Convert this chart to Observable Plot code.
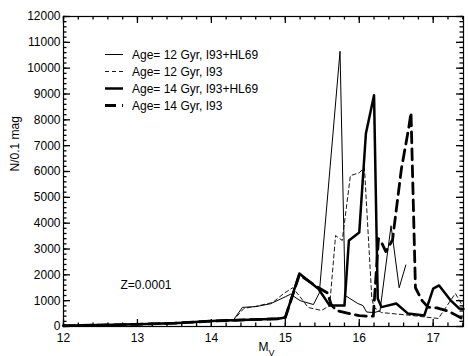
<!DOCTYPE html>
<html><head><meta charset="utf-8">
<script src="https://cdn.jsdelivr.net/npm/d3@7"></script>
<script src="https://cdn.jsdelivr.net/npm/@observablehq/plot@0.6"></script>
<style>
body{margin:0;background:#fff;font-family:"Liberation Sans",Arial,sans-serif}
#wrap{position:relative;width:468px;height:356px}
#legend{position:absolute;left:105px;top:46px;font-size:12px;color:#000}
#legend .row{display:flex;align-items:center;height:17px}
#legend .row svg{display:block}
#legend span{margin-left:9px;white-space:nowrap}
</style>
</head><body><div id="wrap"><div id="legend"></div></div>
<script>
// ---- data ----
const seriesLabels = ["Age= 12 Gyr, I93+HL69", "Age= 12 Gyr, I93", "Age= 14 Gyr, I93+HL69", "Age= 14 Gyr, I93"];

const m12hl = [12.0, 12.5, 13.0, 13.5, 14.0, 14.3, 14.42, 14.6, 14.8, 15.0, 15.07, 15.2, 15.38, 15.46, 15.74, 15.81, 15.98, 16.05, 16.1, 16.2, 16.28, 16.43, 16.54, 16.63];
const n12hl = [30, 60, 90, 140, 220, 260, 740, 770, 880, 1150, 1250, 1000, 850, 1300, 10650, 1200, 890, 810, 560, 540, 600, 3900, 1500, 2380];

const m12 = [12.0, 12.5, 13.0, 13.5, 14.0, 14.3, 14.44, 14.6, 14.83, 14.98, 15.1, 15.2, 15.31, 15.49, 15.6, 15.68, 15.77, 15.88, 16.0, 16.07, 16.17, 16.2, 16.3, 16.7, 17.07, 17.3, 17.41];
const n12 = [30, 60, 90, 140, 220, 250, 700, 780, 930, 1280, 1500, 1150, 735, 620, 810, 3520, 3330, 5840, 5950, 6150, 1100, 735, 540, 430, 310, 1280, 735];

const m14hl = [12.0, 12.5, 13.0, 13.5, 14.0, 14.5, 14.9, 15.0, 15.19, 15.45, 15.6, 15.8, 15.86, 16.0, 16.09, 16.2, 16.25, 16.3, 16.5, 16.66, 16.88, 17.0, 17.08, 17.24, 17.35, 17.41];
const n14hl = [30, 55, 85, 130, 210, 260, 300, 350, 2050, 1450, 810, 810, 3330, 3640, 7470, 8950, 1080, 750, 890, 500, 430, 1470, 1590, 1000, 700, 680];

const m14 = [12.0, 12.5, 13.0, 13.5, 14.0, 14.5, 14.9, 15.0, 15.19, 15.45, 15.57, 15.62, 15.69, 15.87, 16.0, 16.13, 16.19, 16.26, 16.31, 16.36, 16.45, 16.57, 16.67, 16.7, 16.76, 16.85, 16.93, 17.05, 17.2, 17.3, 17.38];
const n14 = [30, 55, 85, 130, 210, 260, 300, 350, 2000, 1500, 1300, 850, 620, 500, 420, 390, 400, 3400, 3200, 2900, 3350, 6100, 7700, 8280, 1500, 1000, 750, 720, 600, 450, 330];

const xMajor = [12, 13, 14, 15, 16, 17];
const xMinor = d3.range(12, 17.41, 0.2);
const yMajor = d3.range(0, 12001, 1000);
const yMinor = d3.range(0, 12001, 200);

const annotation = "Z=0.0001";
const yLabel = "N/0.1 mag";

// ---- build tables ----
const toRows = (ms, ns) => ms.map((m, i) => ({m, n: ns[i]}));
const series = [toRows(m12hl, n12hl), toRows(m12, n12), toRows(m14hl, n14hl), toRows(m14, n14)];

const styles = [
  {strokeWidth: 1, dash: null},
  {strokeWidth: 0.9, dash: "4,3"},
  {strokeWidth: 2.5, dash: null},
  {strokeWidth: 2.8, dash: "11,6"}
];

const W = 468, H = 356, ML = 63, MR = 5, MT = 16, MB = 30;
const FW = W - ML - MR, FH = H - MT - MB;
const xDom = [12, 17.41], yDom = [0, 12000];
const MAJ = 7, MIN = 3.5;
const yPerPx = (yDom[1] - yDom[0]) / FH, xPerPx = (xDom[1] - xDom[0]) / FW;
const tk = {stroke: "black", strokeWidth: 1.3};
// inward ticks on all four sides (tick lengths expressed in pixels)
const tickMarks = [
  Plot.ruleX(xMinor, {x: d => d, y1: yDom[0], y2: yDom[0] + MIN * yPerPx, ...tk}),
  Plot.ruleX(xMajor, {x: d => d, y1: yDom[0], y2: yDom[0] + MAJ * yPerPx, ...tk}),
  Plot.ruleX(xMinor, {x: d => d, y1: yDom[1], y2: yDom[1] - MIN * yPerPx, ...tk}),
  Plot.ruleX(xMajor, {x: d => d, y1: yDom[1], y2: yDom[1] - MAJ * yPerPx, ...tk}),
  Plot.ruleY(yMinor, {y: d => d, x1: xDom[0], x2: xDom[0] + MIN * xPerPx, ...tk}),
  Plot.ruleY(yMajor, {y: d => d, x1: xDom[0], x2: xDom[0] + MAJ * xPerPx, ...tk}),
  Plot.ruleY(yMinor, {y: d => d, x1: xDom[1], x2: xDom[1] - MIN * xPerPx, ...tk}),
  Plot.ruleY(yMajor, {y: d => d, x1: xDom[1], x2: xDom[1] - MAJ * xPerPx, ...tk})
];

const chart = Plot.plot({
  width: W, height: H,
  marginLeft: ML, marginRight: MR, marginTop: MT, marginBottom: MB,
  x: {domain: xDom, label: null},
  y: {domain: yDom, label: null},
  style: {fontFamily: "'Liberation Sans', Arial, sans-serif", fontSize: "12px"},
  marks: [
    ...series.map((s, i) => Plot.line(s, {x: "m", y: "n", stroke: "black", strokeWidth: styles[i].strokeWidth, strokeDasharray: styles[i].dash, strokeLinejoin: "round"})),
    ...tickMarks,
    Plot.frame({stroke: "black", strokeWidth: 1.2}),
    Plot.axisX(xMajor, {anchor: "bottom", tickSize: 0, tickPadding: 7, fill: "black", fontSize: 12, tickFormat: d3.format("d")}),
    Plot.axisY(yMajor, {anchor: "left", tickSize: 0, tickPadding: 3, fill: "black", fontSize: 12, tickFormat: d3.format("d")}),
    Plot.text([annotation], {frameAnchor: "bottom-left", dx: 57, dy: -38, textAnchor: "start", fontSize: 12, fill: "black"}),
    Plot.text([yLabel], {frameAnchor: "left", dx: -48, rotate: -90, fontSize: 12, fill: "black"}),
    Plot.text(["M"], {frameAnchor: "bottom", dx: 3, dy: 24, fontSize: 12, fill: "black"})
  ]
});
document.getElementById("wrap").prepend(chart);

// subscript V on the x label
d3.select(chart).selectAll("text").filter(function(){ return this.textContent === "M"; })
  .append("tspan").attr("baseline-shift", "sub").attr("font-size", 9).text("V");

// legend
const lg = d3.select("#legend");
seriesLabels.forEach((lab, i) => {
  const row = lg.append("div").attr("class", "row");
  const sv = row.append("svg").attr("width", 18).attr("height", 17);
  sv.append("line").attr("x1", 0).attr("x2", 18).attr("y1", 8.5).attr("y2", 8.5)
    .attr("stroke", "#000").attr("stroke-width", styles[i].strokeWidth)
    .attr("stroke-dasharray", styles[i].dash);
  row.append("span").text(lab);
});
</script>
</body></html>
